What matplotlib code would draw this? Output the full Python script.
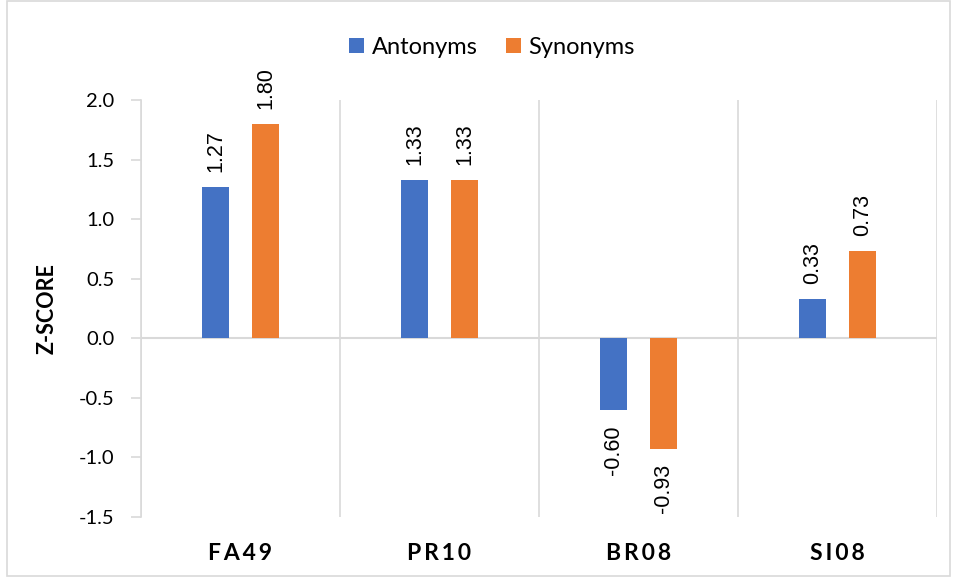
import numpy as np
import matplotlib
matplotlib.use("Agg")
import matplotlib.pyplot as plt
from matplotlib.patches import Rectangle

# z-scores per dataset
categories = ["FA49", "PR10", "BR08", "SI08"]
antonyms = [1.27, 1.33, -0.60, 0.33]
synonyms = [1.80, 1.33, -0.93, 0.73]
yticks = [-1.5, -1.0, -0.5, 0.0, 0.5, 1.0, 1.5, 2.0]

blue = "#4472C4"
orange = "#ED7D31"
grid = "#D9D9D9"

fig = plt.figure(figsize=(9.55, 5.77), dpi=100)
ax = fig.add_axes([0.1476, 0.104, 0.8336, 0.7227])

x = np.arange(len(categories))
w = 0.136
off = 0.126
b1 = ax.bar(x - off, antonyms, w, color=blue, label="Antonyms", zorder=3)
b2 = ax.bar(x + off, synonyms, w, color=orange, label="Synonyms", zorder=3)

# rotated value labels above / below each bar
for bars, vals in ((b1, antonyms), (b2, synonyms)):
    for b, v in zip(bars, vals):
        cx = b.get_x() + b.get_width() / 2
        dy, va = (11, "bottom") if v >= 0 else (-11, "top")
        ax.annotate(f"{v:.2f}", (cx, v), xytext=(0, dy), textcoords="offset points",
                    rotation=90, ha="center", va=va, fontsize=15.5,
                    family="Liberation Sans", color="#000000")

ax.set_xlim(-0.5, 3.5)
ax.set_ylim(-1.5, 2.0)
ax.set_yticks(yticks)
ax.set_yticklabels([f"{t:.1f}" for t in yticks], fontsize=14.5, family="Lato")
ax.tick_params(axis="y", length=7, color=grid, width=1.2, pad=12)

# spaced-out bold category names
spaced = ["\u2009".join(c) for c in categories]
ax.set_xticks(x)
ax.set_xticklabels(spaced, fontsize=16.5, family="Lato", fontweight="bold")
ax.tick_params(axis="x", length=0, pad=19)
ax.set_xticks([-0.5, 0.5, 1.5, 2.5, 3.5], minor=True)
ax.tick_params(axis="x", which="minor", length=0)
ax.grid(axis="x", which="minor", color=grid, linewidth=1.2, zorder=0)
ax.grid(axis="x", which="major", visible=False)

for s in ("top", "right", "bottom"):
    ax.spines[s].set_visible(False)
ax.spines["left"].set_color(grid)
ax.spines["left"].set_linewidth(1.2)
ax.axhline(0, color=grid, linewidth=1.5, zorder=2)

ax.set_ylabel("Z-SCORE", fontsize=15.5, family="Lato", fontweight="bold", labelpad=15)

leg = fig.legend(handles=[b1, b2], loc="center", bbox_to_anchor=(0.515, 0.918), ncol=2,
                 frameon=False, handlelength=0.64, handleheight=0.64,
                 columnspacing=1.2, handletextpad=0.32, prop={"family": "Lato", "size": 17})

# light frame around the whole chart
fig.patches.append(Rectangle((0.007, 0.002), 0.988, 0.996, transform=fig.transFigure,
                             fill=False, edgecolor=grid, linewidth=1.2))

fig.savefig("out.png", dpi=100)
